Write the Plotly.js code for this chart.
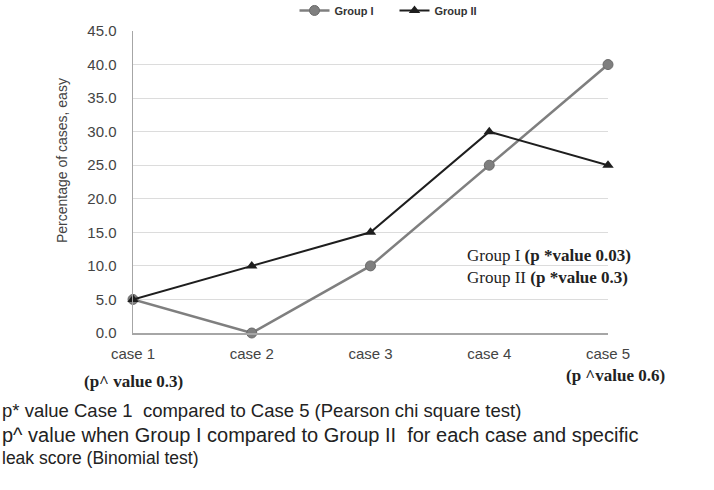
<!DOCTYPE html>
<html>
<head>
<meta charset="utf-8">
<script src="https://cdn.plot.ly/plotly-3.0.1.min.js"></script>
<style>
  body { margin: 0; background: #fff; }
  #plot { width: 714px; height: 490px; }
</style>
</head>
<body>
<div id="plot"></div>
<script>
// Chart data
const cases = ["case 1", "case 2", "case 3", "case 4", "case 5"];
const groupI = [5.0, 0.0, 10.0, 25.0, 40.0];
const groupII = [5.0, 10.0, 15.0, 30.0, 25.0];
const yTicks = [0, 5, 10, 15, 20, 25, 30, 35, 40, 45];

const trace1 = {
    x: cases,
    y: groupI,
    mode: 'lines+markers',
    name: 'Group I',
    line: {color: '#7f7f7f', width: 2.5},
    marker: {color: '#7f7f7f', size: 10, symbol: 'circle', line: {color: '#6a6a6a', width: 1}},
    cliponaxis: false
};

const trace2 = {
    x: cases,
    y: groupII,
    mode: 'lines+markers',
    name: 'Group II',
    line: {color: '#1e1e1e', width: 2},
    marker: {color: '#1e1e1e', size: 10, symbol: 'triangle-up'},
    cliponaxis: false
};

const serif = 'Liberation Serif, Times New Roman, serif';
const sans = 'Liberation Sans, Arial, sans-serif';

// text notes around the chart
const notes = [
    {x: -0.149, y: 0.57, text: 'Percentage of cases, easy', textangle: -90, font: {family: sans, size: 14, color: '#444'}, xanchor: 'center'},
    {x: 0.699, y: 0.258, text: 'Group I <b>(p *value 0.03)</b>', font: {family: serif, size: 17, color: '#222'}, xanchor: 'left'},
    {x: 0.699, y: 0.185, text: 'Group II <b>(p *value 0.3)</b>', font: {family: serif, size: 17, color: '#222'}, xanchor: 'left'},
    {x: 0.0, y: -0.159, text: '<b>(p^ value 0.3)</b>', font: {family: serif, size: 17, color: '#222'}, xanchor: 'center'},
    {x: 1.015, y: -0.142, text: '<b>(p ^value 0.6)</b>', font: {family: serif, size: 17, color: '#222'}, xanchor: 'center'},
    {x: -0.28, y: -0.258, text: 'p* value Case 1  compared to Case 5 (Pearson chi square test)', font: {family: sans, size: 18.5, color: '#222'}, xanchor: 'left'},
    {x: -0.28, y: -0.338, text: 'p^ value when Group I compared to Group II  for each case and specific', font: {family: sans, size: 20, color: '#222'}, xanchor: 'left'},
    {x: -0.28, y: -0.414, text: 'leak score (Binomial test)', font: {family: sans, size: 17.5, color: '#222'}, xanchor: 'left'}
].map(n => Object.assign({xref: 'paper', yref: 'paper', showarrow: false, yanchor: 'middle'}, n));

const layout = {
    width: 714,
    height: 490,
    margin: {l: 133, r: 106, t: 31, b: 157, autoexpand: false},
    paper_bgcolor: '#fff',
    plot_bgcolor: '#fff',
    font: {family: sans, color: '#333'},
    showlegend: true,
    legend: {
        orientation: 'h',
        x: 0.34,
        xanchor: 'left',
        y: 1.116,
        yanchor: 'top',
        font: {family: sans, size: 11, color: '#333', weight: 'bold'},
        itemwidth: 30,
        entrywidth: 55
    },
    xaxis: {
        type: 'category',
        range: [0, 4],
        showgrid: false,
        showline: true,
        linecolor: '#a6a6a6',
        linewidth: 1.5,
        ticks: '',
        ticklabelstandoff: 6,
        tickfont: {size: 15, color: '#444'},
        fixedrange: true
    },
    yaxis: {
        range: [0, 45],
        tickvals: yTicks,
        ticktext: yTicks.map(v => v.toFixed(1)),
        showgrid: true,
        gridcolor: '#dcdcdc',
        showline: true,
        linecolor: '#a6a6a6',
        linewidth: 1.5,
        zeroline: false,
        ticks: '',
        ticklabelstandoff: 12,
        tickfont: {size: 15, color: '#444'}
    },
    annotations: notes
};

Plotly.newPlot('plot', [trace1, trace2], layout, {displayModeBar: false, staticPlot: true});
</script>
</body>
</html>
